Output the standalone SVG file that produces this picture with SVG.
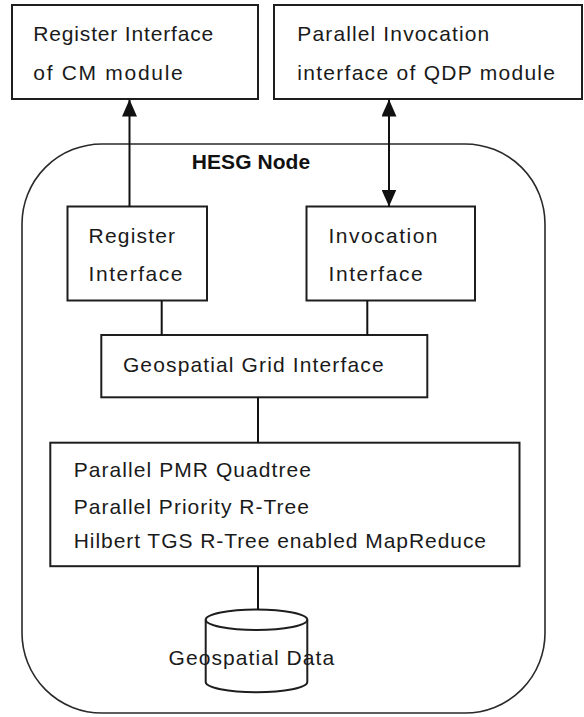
<svg xmlns="http://www.w3.org/2000/svg" width="584" height="717" viewBox="0 0 584 717">
  <style>
    .box { fill: #ffffff; stroke: #1e1e1e; stroke-width: 2; }
    .outer { fill: none; stroke: #2a2a2a; stroke-width: 1.6; }
    .wire { fill: none; stroke: #111111; stroke-width: 2; }
    .lbl { font-family: "Liberation Sans", Arial, sans-serif; font-size: 21px; fill: #1a1a1a; }
    .title { font-family: "Liberation Sans", Arial, sans-serif; font-size: 21px; font-weight: bold; fill: #111111; }
  </style>
  <defs>
    <marker id="head" viewBox="0 0 17 15" refX="17" refY="7.5" markerUnits="userSpaceOnUse" markerWidth="17" markerHeight="15" orient="auto-start-reverse">
      <path d="M0,0 L17,7.5 L0,15 Z" fill="#111111"/>
    </marker>
  </defs>

  <rect width="584" height="717" fill="#ffffff"/>

  <!-- external modules -->
  <g id="cm-register">
    <rect class="box" x="12" y="5" width="246" height="94"/>
    <text class="lbl" x="33.3" y="40.5" textLength="180" lengthAdjust="spacing">Register Interface</text>
    <text class="lbl" x="33.3" y="80" textLength="149.4" lengthAdjust="spacing">of CM module</text>
  </g>
  <g id="qdp-invocation">
    <rect class="box" x="274" y="5" width="308" height="94"/>
    <text class="lbl" x="297.3" y="40.5" textLength="192" lengthAdjust="spacing">Parallel Invocation</text>
    <text class="lbl" x="297.3" y="80" textLength="257.7" lengthAdjust="spacing">interface of QDP module</text>
  </g>

  <!-- HESG node container -->
  <g id="hesg-node">
    <rect class="outer" x="22" y="144" width="523" height="569" rx="80" ry="80"/>
    <text class="title" x="191.8" y="169" textLength="118.4" lengthAdjust="spacing">HESG Node</text>
  </g>

  <g id="register-interface">
    <rect class="box" x="67.5" y="206.5" width="139.5" height="94"/>
    <text class="lbl" x="88.6" y="243" textLength="86.4" lengthAdjust="spacing">Register</text>
    <text class="lbl" x="88.6" y="281" textLength="93.9" lengthAdjust="spacing">Interface</text>
  </g>
  <g id="invocation-interface">
    <rect class="box" x="306.5" y="206.5" width="168.5" height="94"/>
    <text class="lbl" x="328.5" y="243" textLength="109" lengthAdjust="spacing">Invocation</text>
    <text class="lbl" x="328.5" y="281" textLength="94.2" lengthAdjust="spacing">Interface</text>
  </g>
  <g id="grid-interface">
    <rect class="box" x="101.3" y="335" width="326" height="62.3"/>
    <text class="lbl" x="122.9" y="372.3" textLength="260.7" lengthAdjust="spacing">Geospatial Grid Interface</text>
  </g>
  <g id="index-engines">
    <rect class="box" x="50.3" y="442.7" width="469.2" height="123.5"/>
    <text class="lbl" x="73.7" y="476.7" textLength="237.3" lengthAdjust="spacing">Parallel PMR Quadtree</text>
    <text class="lbl" x="73.7" y="513.5" textLength="235.3" lengthAdjust="spacing">Parallel Priority R-Tree</text>
    <text class="lbl" x="73.7" y="547.7" textLength="412.3" lengthAdjust="spacing">Hilbert TGS R-Tree enabled MapReduce</text>
  </g>
  <g id="geospatial-data">
    <path class="box" d="M205.7,619.7 V682 A50.8,10.3 0 0 0 307.3,682 V619.7"/>
    <ellipse class="box" cx="256.5" cy="619.7" rx="50.8" ry="10.3"/>
    <text class="lbl" x="168.5" y="665" textLength="165.7" lengthAdjust="spacing">Geospatial Data</text>
  </g>

  <!-- connectors -->
  <g id="connectors">
    <line class="wire" x1="129.5" y1="206.5" x2="129.5" y2="99.5" marker-end="url(#head)"/>
    <line class="wire" x1="389" y1="99.5" x2="389" y2="206.5" marker-start="url(#head)" marker-end="url(#head)"/>
    <line class="wire" x1="161.7" y1="300.5" x2="161.7" y2="335"/>
    <line class="wire" x1="367.3" y1="300.5" x2="367.3" y2="335"/>
    <line class="wire" x1="258" y1="397.3" x2="258" y2="442.7"/>
    <line class="wire" x1="258" y1="566.2" x2="258" y2="609.4"/>
  </g>
</svg>
